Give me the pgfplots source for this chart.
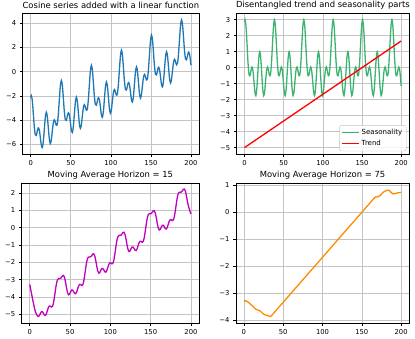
\documentclass[border=0pt]{standalone}
\usepackage{fontspec}
\setmainfont{DejaVu Sans}
\usepackage{pgfplots}
\usepackage{pgfplotstable}
\pgfplotsset{compat=1.18}

\definecolor{gridc}{HTML}{C4C4C4}
\definecolor{c0}{HTML}{1F77B4}
\definecolor{seagreen}{HTML}{3CB371}
\definecolor{magc}{HTML}{BF00BF}
\definecolor{orangec}{HTML}{FF8C00}

% x, seasonality, series (trend + seasonality), moving average 15
\pgfplotstableread{
x s y m
0 2.86 -2.14 -3.28
0.7 3.00 -1.98 -3.45
1.95 2.56 -2.37 -3.75
3.2 1.48 -3.42 -4.05
4.45 0.31 -4.54 -4.35
5.7 -0.41 -5.22 -4.62
6.95 -0.50 -5.27 -4.85
8.2 -0.19 -4.92 -5.00
9.45 0.04 -4.65 -5.10
10.7 -0.17 -4.81 -5.13
11.95 -0.81 -5.41 -5.09
13.2 -1.50 -6.06 -4.96
14.45 -1.75 -6.27 -4.86
15.7 -1.31 -5.79 -4.86
16.95 -0.35 -4.78 -4.95
18.2 0.60 -3.79 -5.05
19.45 1.00 -3.35 -5.07
20.7 0.60 -3.71 -4.97
21.95 -0.35 -4.62 -4.78
23.2 -1.31 -5.54 -4.61
24.45 -1.75 -5.94 -4.53
25.7 -1.50 -5.64 -4.54
26.95 -0.81 -4.91 -4.59
28.2 -0.17 -4.23 -4.55
29.45 0.04 -3.98 -4.35
30.7 -0.19 -4.17 -3.99
31.95 -0.50 -4.44 -3.58
33.2 -0.41 -4.31 -3.22
34.45 0.31 -3.54 -3.01
35.7 1.48 -2.33 -2.94
36.95 2.56 -1.21 -2.94
38.2 3.00 -0.73 -2.93
39.45 2.56 -1.12 -2.86
40.7 1.48 -2.17 -2.77
41.95 0.31 -3.29 -2.76
43.2 -0.41 -3.97 -2.89
44.45 -0.50 -4.02 -3.16
45.7 -0.19 -3.67 -3.49
46.95 0.04 -3.40 -3.76
48.2 -0.17 -3.56 -3.88
49.45 -0.81 -4.16 -3.84
50.7 -1.50 -4.81 -3.71
51.95 -1.75 -5.02 -3.61
53.2 -1.31 -4.54 -3.61
54.45 -0.35 -3.53 -3.70
55.7 0.60 -2.54 -3.80
56.95 1.00 -2.10 -3.82
58.2 0.60 -2.46 -3.72
59.45 -0.35 -3.37 -3.53
60.7 -1.31 -4.29 -3.36
61.95 -1.75 -4.69 -3.28
63.2 -1.50 -4.39 -3.29
64.45 -0.81 -3.66 -3.34
65.7 -0.17 -2.98 -3.30
66.95 0.04 -2.73 -3.10
68.2 -0.19 -2.92 -2.74
69.45 -0.50 -3.19 -2.33
70.7 -0.41 -3.06 -1.97
71.95 0.31 -2.29 -1.76
73.2 1.48 -1.08 -1.69
74.45 2.56 0.04 -1.69
75.7 3.00 0.52 -1.68
76.95 2.56 0.13 -1.61
78.2 1.48 -0.92 -1.52
79.45 0.31 -2.04 -1.51
80.7 -0.41 -2.72 -1.64
81.95 -0.50 -2.77 -1.91
83.2 -0.19 -2.42 -2.24
84.45 0.04 -2.15 -2.51
85.7 -0.17 -2.31 -2.63
86.95 -0.81 -2.91 -2.59
88.2 -1.50 -3.56 -2.46
89.45 -1.75 -3.77 -2.36
90.7 -1.31 -3.29 -2.36
91.95 -0.35 -2.28 -2.45
93.2 0.60 -1.29 -2.55
94.45 1.00 -0.85 -2.57
95.7 0.60 -1.21 -2.47
96.95 -0.35 -2.12 -2.28
98.2 -1.31 -3.04 -2.11
99.45 -1.75 -3.44 -2.03
100.7 -1.50 -3.14 -2.04
101.95 -0.81 -2.41 -2.09
103.2 -0.17 -1.73 -2.05
104.45 0.04 -1.48 -1.85
105.7 -0.19 -1.67 -1.49
106.95 -0.50 -1.94 -1.08
108.2 -0.41 -1.81 -0.72
109.45 0.31 -1.04 -0.51
110.7 1.48 0.17 -0.44
111.95 2.56 1.29 -0.44
113.2 3.00 1.77 -0.43
114.45 2.56 1.38 -0.36
115.7 1.48 0.33 -0.27
116.95 0.31 -0.79 -0.26
118.2 -0.41 -1.47 -0.39
119.45 -0.50 -1.52 -0.66
120.7 -0.19 -1.17 -0.99
121.95 0.04 -0.90 -1.26
123.2 -0.17 -1.06 -1.38
124.45 -0.81 -1.66 -1.34
125.7 -1.50 -2.31 -1.21
126.95 -1.75 -2.52 -1.11
128.2 -1.31 -2.04 -1.11
129.45 -0.35 -1.03 -1.20
130.7 0.60 -0.04 -1.30
131.95 1.00 0.40 -1.32
133.2 0.60 0.05 -1.22
134.45 -0.35 -0.87 -1.03
135.7 -1.31 -1.79 -0.86
136.95 -1.75 -2.19 -0.78
138.2 -1.50 -1.89 -0.79
139.45 -0.81 -1.16 -0.84
140.7 -0.17 -0.48 -0.80
141.95 0.04 -0.23 -0.60
143.2 -0.19 -0.42 -0.24
144.45 -0.50 -0.69 0.17
145.7 -0.41 -0.56 0.53
146.95 0.31 0.21 0.74
148.2 1.48 1.42 0.81
149.45 2.56 2.54 0.81
150.7 3.00 3.02 0.82
151.95 2.56 2.63 0.89
153.2 1.48 1.58 0.98
154.45 0.31 0.46 0.99
155.7 -0.41 -0.22 0.86
156.95 -0.50 -0.27 0.59
158.2 -0.19 0.08 0.26
159.45 0.04 0.36 -0.01
160.7 -0.17 0.19 -0.13
161.95 -0.81 -0.41 -0.09
163.2 -1.50 -1.06 0.04
164.45 -1.75 -1.27 0.14
165.7 -1.31 -0.79 0.14
166.95 -0.35 0.22 0.05
168.2 0.60 1.21 -0.05
169.45 1.00 1.65 -0.07
170.7 0.60 1.30 0.03
171.95 -0.35 0.38 0.22
173.2 -1.31 -0.54 0.39
174.45 -1.75 -0.94 0.47
175.7 -1.50 -0.64 0.46
176.95 -0.81 0.09 0.41
178.2 -0.17 0.77 0.46
179.45 0.04 1.02 0.65
180.7 -0.19 0.83 1.01
181.95 -0.50 0.57 1.42
183.2 -0.41 0.69 1.78
184.45 0.31 1.46 1.99
185.7 1.48 2.67 2.06
186.95 2.56 3.79 2.06
188.2 3.00 4.27 2.07
189.45 2.56 3.88 2.14
190.7 1.48 2.83 2.23
191.95 0.31 1.71 2.24
193.2 -0.41 1.03 2.11
194.45 -0.50 0.98 1.84
195.7 -0.19 1.33 1.51
196.95 0.04 1.61 1.24
198.2 -0.17 1.44 1.05
199.45 -0.81 0.84 0.86
200 -1.14 0.53 0.80
}\series

% moving average 75
\pgfplotstableread{
x m
0 -3.28
3 -3.28
6 -3.34
9 -3.42
12 -3.50
15 -3.59
18 -3.62
21 -3.66
24 -3.75
27 -3.80
30 -3.82
33 -3.86
34.5 -3.85
50 -3.333
100 -1.667
150 0.0
160 0.333
164 0.47
167 0.56
171 0.58
174 0.64
177 0.74
180 0.79
183 0.82
185 0.81
187 0.74
190 0.68
193 0.70
196 0.72
200 0.74
}\mavg

\pgfplotsset{
  panel/.style={
    scale only axis,
    xmin=-10, xmax=210,
    xtick={0,50,100,150,200},
    xtick pos=bottom, ytick pos=left,
    tick align=outside,
    major tick length=3pt,
    tick style={black, line width=0.6pt},
    axis line style={line width=0.6pt},
    grid=major,
    major grid style={gridc, line width=0.6pt},
    ticklabel style={font=\fontsize{6.8}{7}\selectfont},
    title style={font=\fontsize{8.4}{9}\selectfont, yshift=-5pt},
    /pgf/number format/assume math mode=true,
  },
}

\begin{document}
\begin{tikzpicture}[x=1pt,y=1pt]
\useasboundingbox (0,0) rectangle (415,339);

\begin{axis}[panel, at={(22.7pt,184.7pt)}, anchor=south west,
  width=176.3pt, height=141pt,
  ymin=-6.83, ymax=4.82,
  ytick={-6,-4,-2,0,2,4},
  yticklabels={−6,−4,−2,0,2,4},
  title={Cosine series added with a linear function}]
\addplot[c0, line width=1.3pt, smooth] table[x=x, y=y] {\series};
\end{axis}

\begin{axis}[panel, at={(236.7pt,185pt)}, anchor=south west,
  width=172.3pt, height=140.7pt,
  ymin=-5.4, ymax=3.4,
  ytick={-5,-4,-3,-2,-1,0,1,2,3},
  yticklabels={−5,−4,−3,−2,−1,0,1,2,3},
  title={Disentangled trend and seasonality parts},
  legend cell align=left,
  legend image code/.code={\draw[#1] (0pt,0pt) -- (17pt,0pt);},
  legend style={at={(0.985,0.02)}, anchor=south east,
    font=\fontsize{7}{8}\selectfont, draw=gridc, rounded corners=2pt,
    fill=white, fill opacity=0.8, text opacity=1, row sep=0pt,
    inner sep=2pt}]
\addplot[seagreen, line width=1.3pt, smooth] table[x=x, y=s] {\series};
\addlegendentry{Seasonality}
\addplot[red, line width=1.3pt] coordinates {(0,-5) (200,1.667)};
\addlegendentry{Trend}
\end{axis}

\begin{axis}[panel, at={(21.7pt,15.7pt)}, anchor=south west,
  width=177.3pt, height=139.6pt,
  ymin=-5.53, ymax=2.55,
  ytick={-5,-4,-3,-2,-1,0,1,2},
  yticklabels={−5,−4,−3,−2,−1,0,1,2},
  title={Moving Average Horizon = 15}]
\addplot[magc, line width=1.3pt, smooth] table[x=x, y=m] {\series};
\end{axis}

\begin{axis}[panel, at={(236pt,16pt)}, anchor=south west,
  width=173pt, height=139.6pt,
  ymin=-4.1, ymax=1.07,
  ytick={-4,-3,-2,-1,0,1},
  yticklabels={−4,−3,−2,−1,0,1},
  title={Moving Average Horizon = 75}]
\addplot[orangec, line width=1.3pt] table[x=x, y=m] {\mavg};
\end{axis}

\end{tikzpicture}
\end{document}
